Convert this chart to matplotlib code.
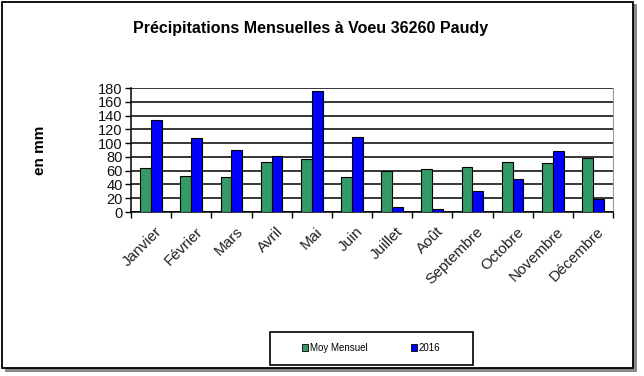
import matplotlib
matplotlib.use("Agg")
import matplotlib.pyplot as plt
from matplotlib.patches import Rectangle, Patch
import numpy as np

months = ["Janvier", "Février", "Mars", "Avril", "Mai", "Juin", "Juillet",
          "Août", "Septembre", "Octobre", "Novembre", "Décembre"]
moy_mensuel = [64, 52, 51, 72, 77, 51, 60, 63, 65, 73, 71, 78]
pluie_2016 = [134, 107, 90, 81, 176, 109, 7, 5, 31, 48, 88, 19]
series_names = ["Moy Mensuel", "2016"]
yticks = [0, 20, 40, 60, 80, 100, 120, 140, 160, 180]

plt.rcParams['font.family'] = ['Liberation Sans', 'DejaVu Sans']

W, H = 644, 376
fig = plt.figure(figsize=(W / 100, H / 100), dpi=100)

# outer frame with shadow
fig.patches.append(Rectangle((5 / W, 1 - 372 / H), 632 / W, 368 / H, transform=fig.transFigure,
                             facecolor="#8a8a8a", edgecolor="none", zorder=0))
fig.patches.append(Rectangle((2 / W, 1 - 368 / H), 631 / W, 366 / H, transform=fig.transFigure,
                             facecolor="white", edgecolor="black", linewidth=1.3, zorder=1))

ax = fig.add_axes([131 / W, 1 - 212 / H, 482 / W, 124 / H])
ax.set_zorder(2)
x = np.arange(len(months))
bw = 0.27
ax.bar(x - bw / 2, moy_mensuel, bw, color="#339966", edgecolor="black", linewidth=0.8, zorder=3)
ax.bar(x + bw / 2, pluie_2016, bw, color="#0000ff", edgecolor="black", linewidth=0.8, zorder=3)

ax.set_xlim(-0.5, len(months) - 0.5)
ax.set_ylim(0, 180)
ax.set_yticks(yticks)
ax.set_yticklabels([str(v) for v in yticks], fontsize=10.5, color="#111111")
ax.yaxis.grid(True, color="black", linewidth=1.1, zorder=1)
ax.set_axisbelow(True)

ax.set_xticks(np.arange(len(months) + 1) - 0.5)
ax.set_xticklabels([])
ax.set_xticks(x + 0.1, minor=True)
ax.set_xticklabels(months, minor=True, rotation=45, ha="right", rotation_mode="anchor",
                   fontsize=11, color="#222222")
ax.tick_params(axis="x", which="minor", length=0, pad=9)
ax.tick_params(axis="x", which="major", length=4, width=1, color="black")
ax.tick_params(axis="y", length=4, width=1, pad=2)

for s in ["left", "bottom"]:
    ax.spines[s].set_color("black")
    ax.spines[s].set_linewidth(1.1)
ax.spines["top"].set_visible(False)
ax.spines["right"].set_color("#999999")
ax.spines["right"].set_linewidth(0.8)

fig.text(311 / W, 1 - 28 / H, "Précipitations Mensuelles à Voeu 36260 Paudy",
         ha="center", va="center", fontsize=11.5, fontweight="bold",
         family=["Liberation Sans Narrow", "Liberation Sans"])
fig.text(40 / W, 1 - 150 / H, "en mm", rotation=90, ha="center", va="center",
         fontsize=11, fontweight="bold")

# legend box
fig.patches.append(Rectangle((270 / W, 1 - 365 / H), 203 / W, 33 / H, transform=fig.transFigure,
                             facecolor="white", edgecolor="black", linewidth=1.2, zorder=2))
handles = [Patch(facecolor="#339966", edgecolor="black", linewidth=0.6),
           Patch(facecolor="#0000ff", edgecolor="black", linewidth=0.6)]
leg = fig.legend(handles, series_names, loc="center", bbox_to_anchor=(371 / W, 1 - 348 / H),
                 ncol=2, frameon=False, fontsize=7, handlelength=0.6, handleheight=0.6,
                 handletextpad=0.2, columnspacing=4.5)
leg.set_zorder(3)

fig.savefig("out.png", dpi=100)
